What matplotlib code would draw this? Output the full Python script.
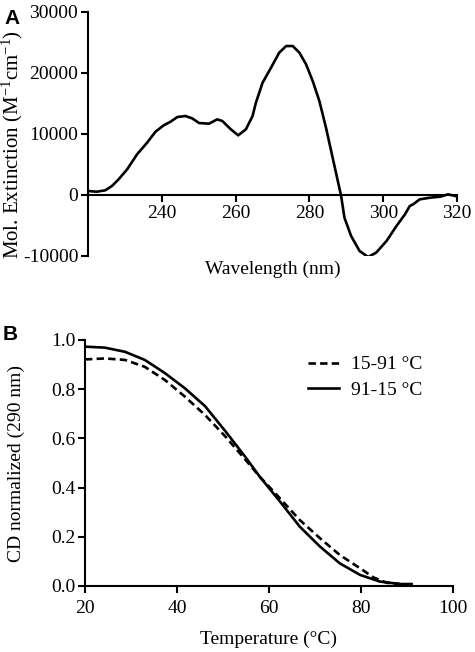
import matplotlib
matplotlib.use("Agg")
import matplotlib.pyplot as plt

plt.rcParams['font.family'] = ['Liberation Serif', 'DejaVu Serif']
plt.rcParams['mathtext.fontset'] = 'custom'
plt.rcParams['mathtext.rm'] = 'Liberation Serif'
plt.rcParams['mathtext.it'] = 'Liberation Serif:italic'
plt.rcParams['axes.unicode_minus'] = False

# Panel A: CD spectrum
wavelength = [220.1, 222.4, 224.7, 226.5, 228.3, 230.6, 233.3, 236.0, 238.3, 240.5, 242.4,
              244.2, 246.4, 248.2, 250.1, 252.8, 255.0, 256.4, 258.7, 260.7, 262.8, 264.6,
              265.5, 267.3, 269.6, 271.8, 273.7, 275.5, 277.3, 279.1, 280.9, 282.7, 284.5,
              286.3, 287.7, 288.6, 289.5, 291.3, 293.6, 295.9, 298.1, 300.9, 303.6, 305.9,
              307.2, 308.1, 309.9, 312.7, 315.4, 317.6, 319.5]
mol_ext = [650, 540, 770, 1480, 2570, 4200, 6670, 8570, 10380, 11420, 12020,
           12780, 12950, 12570, 11800, 11690, 12400, 12130, 10770, 9780, 10770, 12950,
           15130, 18400, 20870, 23320, 24420, 24420, 23320, 21420, 18680, 15400, 11030,
           6110, 2290, -160, -3720, -6720, -9180, -10160, -9450, -7540, -5080, -3170,
           -1800, -1530, -710, -440, -280, 110, -160]

# Panel B: thermal melting
temp_up = [20.0, 24.3, 28.7, 33.0, 37.4, 41.7, 46.1, 50.4, 54.8, 58.0, 62.4, 66.7, 71.1,
           75.4, 79.8, 82.7, 85.6, 88.5]
cd_up = [0.921, 0.925, 0.919, 0.891, 0.837, 0.770, 0.695, 0.610, 0.515, 0.444, 0.356,
         0.268, 0.194, 0.126, 0.072, 0.035, 0.013, 0.008]
temp_down = [20.0, 24.3, 28.7, 33.0, 37.4, 41.7, 46.1, 50.4, 54.8, 58.0, 62.4, 66.7, 71.1,
             75.4, 79.8, 84.1, 88.5, 91.0]
cd_down = [0.973, 0.969, 0.952, 0.919, 0.865, 0.804, 0.731, 0.632, 0.526, 0.444, 0.343,
           0.241, 0.160, 0.092, 0.045, 0.018, 0.008, 0.008]

W, H = 475, 652
fig = plt.figure(figsize=(W / 100, H / 100), dpi=100)

def ax_rect(l, r, t, b):
    return [l / W, 1 - b / H, (r - l) / W, (b - t) / H]

FS = 14
LW_SP = 1.5
LW = 1.9

# ---------- Panel A ----------
axA = fig.add_axes(ax_rect(88, 457, 12, 256))
axA.plot(wavelength, mol_ext, color='black', lw=LW, solid_joinstyle='round')
axA.set_xlim(220, 320)
axA.set_ylim(-10000, 30000)
axA.spines['right'].set_visible(False)
axA.spines['top'].set_visible(False)
axA.spines['bottom'].set_position(('data', 0))
for s in ['left', 'bottom']:
    axA.spines[s].set_linewidth(LW_SP)
axA.set_xticks([240, 260, 280, 300, 320])
axA.set_yticks([-10000, 0, 10000, 20000, 30000])
axA.tick_params(axis='both', direction='out', length=5, width=LW_SP, labelsize=FS, color='black')
axA.tick_params(axis='x', pad=2)
axA.tick_params(axis='y', pad=2)
axA.set_xlabel('Wavelength (nm)', fontsize=FS, labelpad=0)
axA.xaxis.set_label_coords(0.5, -0.02)
axA.set_ylabel(r'Mol. Extinction (M$^{-1}$cm$^{-1}$)', fontsize=15)
axA.yaxis.set_label_coords(-0.172, 0.455)
fig.text(12 / W, 1 - 18 / H, 'A', fontsize=15, fontweight='bold',
         family=['Liberation Sans', 'DejaVu Sans'], ha='center', va='center')

# ---------- Panel B ----------
axB = fig.add_axes(ax_rect(85, 453, 340, 586))
axB.plot(temp_up, cd_up, color='black', lw=LW, dashes=(2.8, 1.6), label='15-91 °C')
axB.plot(temp_down, cd_down, color='black', lw=LW, label='91-15 °C')
axB.set_xlim(20, 100)
axB.set_ylim(0, 1.0)
axB.spines['right'].set_visible(False)
axB.spines['top'].set_visible(False)
for s in ['left', 'bottom']:
    axB.spines[s].set_linewidth(LW_SP)
axB.set_xticks([20, 40, 60, 80, 100])
axB.set_yticks([0.0, 0.2, 0.4, 0.6, 0.8, 1.0])
axB.set_yticklabels(['0.0', '0.2', '0.4', '0.6', '0.8', '1.0'])
axB.tick_params(axis='both', direction='out', length=5, width=LW_SP, labelsize=FS, color='black')
axB.tick_params(axis='x', pad=5)
axB.tick_params(axis='y', pad=2)
axB.set_xlabel('Temperature (°C)', fontsize=FS)
axB.xaxis.set_label_coords(0.5, -0.18)
axB.set_ylabel('CD normalized (290 nm)', fontsize=FS)
axB.yaxis.set_label_coords(-0.163, 0.5)
axB.legend(loc='upper left', bbox_to_anchor=(0.579, 0.975), frameon=False, fontsize=FS,
           handlelength=1.6, handletextpad=0.6, borderpad=0, labelspacing=0.4)
fig.text(10 / W, 1 - 335 / H, 'B', fontsize=15, fontweight='bold',
         family=['Liberation Sans', 'DejaVu Sans'], ha='center', va='center')

fig.savefig('out.png', dpi=100)
